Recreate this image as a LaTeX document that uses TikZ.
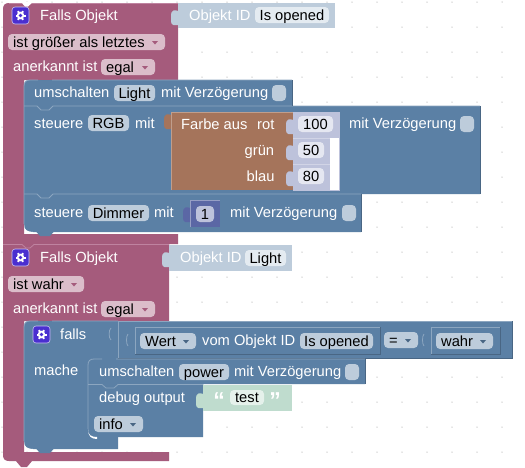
\documentclass[tikz,border=0pt]{standalone}
\usepackage{fontspec}
\setmainfont{Liberation Sans}
\definecolor{pur}{HTML}{A55B7C}
\definecolor{purL}{HTML}{BF83A0}
\definecolor{purF}{HTML}{DBBDCA}
\definecolor{blu}{HTML}{5B80A5}
\definecolor{bluL}{HTML}{8CA6C0}
\definecolor{bluD}{HTML}{496684}
\definecolor{bluF}{HTML}{BDCCDB}
\definecolor{bluFF}{HTML}{E4EBF1}
\definecolor{bro}{HTML}{A5745B}
\definecolor{broL}{HTML}{C09E8C}
\definecolor{ind}{HTML}{5B67A5}
\definecolor{indF}{HTML}{BDC2DB}
\definecolor{indFF}{HTML}{E5E7F1}
\definecolor{grnL}{HTML}{BFDCCE}
\definecolor{grnF}{HTML}{E5F1EB}
\definecolor{iconc}{HTML}{4A2FD0}
\newcount\nn
\tikzset{
  lbl/.style={anchor=base west,inner sep=0pt,text=white,font=\fontsize{14.7}{16}\selectfont},
  vtxt/.style={anchor=base,inner sep=0pt,text=black,font=\fontsize{14.7}{16}\selectfont},
  dtxt/.style={anchor=base west,inner sep=0pt,text=black,font=\fontsize{14.7}{16}\selectfont},
  quot/.style={anchor=base,inner sep=0pt,text=white,font=\fontsize{23}{23}\selectfont\bfseries},
  fieldbox/.style={rounded corners=4pt},
  edge/.style={line width=0.8pt},
}
\newcommand{\lb}[3]{\global\advance\nn by 1 \node[lbl] (n\the\nn) at (#1,#2) {#3};}
\newcommand{\fld}[5]{\fill[#1,fieldbox] (#2,#4) rectangle (#3,#4+16);
  \global\advance\nn by 1 \node[vtxt] (n\the\nn) at ({(#2+#3)/2},#4+13) {#5};}
\newcommand{\dd}[6]{\fill[#1,fieldbox] (#3,#5) rectangle (#4,#5+16);
  \global\advance\nn by 1 \node[dtxt] (n\the\nn) at (#3+5,#5+13) {#6};
  \fill[#2] (#4-13,#5+7) -- (#4-7,#5+7) -- (#4-10,#5+10.5) -- cycle;}
\newcommand{\chk}[2]{\fill[bluF,fieldbox] (#1,#2) rectangle (#1+14,#2+16);}
\newcommand{\tabb}[3]{\fill[#3] (#1+0.5,#2+3) .. controls (#1-3,#2+2) and (#1-7,#2+1) .. (#1-7,#2+8) -- (#1-7,#2+12) .. controls (#1-7,#2+19) and (#1-3,#2+17) .. (#1+0.5,#2+17) -- cycle;}
\newcommand{\vb}[6]{\fill[#5] (#1,#2) rectangle (#3,#4);
  \draw[#6,edge] (#1,#4) -- (#1,#2) -- (#3,#2);}
\newcommand{\icon}[2]{\fill[iconc,rounded corners=3pt,draw=white!70!iconc,line width=0.6pt] (#1,#2) rectangle (#1+17,#2+17);
  \foreach \a in {0,60,...,300}{\draw[white,line width=2pt] ($(#1+8.5,#2+8.5)+(\a:3)$) -- ($(#1+8.5,#2+8.5)+(\a:5)$);}
  \fill[white] (#1+8.5,#2+8.5) circle (3.8pt);
  \fill[iconc] (#1+8.5,#2+8.5) circle (1.9pt);}
\newcommand{\notch}[3]{\fill[#3] (#1+12,#2-0.5) -- (#1+16,#2+4) -- (#1+26,#2+4) -- (#1+30,#2-0.5) -- cycle;}
\newcommand{\qq}[2]{\global\advance\nn by 1 \node[quot] (n\the\nn) at (#1,#2) {\char"201C};}
\newcommand{\qr}[2]{\global\advance\nn by 1 \node[quot] (n\the\nn) at (#1,#2) {\char"201D};}
\usetikzlibrary{calc}
\begin{document}
\begin{tikzpicture}[x=1pt,y=-1pt]
\useasboundingbox (0,0) rectangle (525,467);
\fill[white] (0,0) rectangle (525,467);
\foreach \i in {0,...,20}{\foreach \j in {0,...,18}{\fill[black!20] (2+25*\i,2+25*\j) circle (0.75pt);}}
% ---------- purple block 1
\fill[pur] (3,9) .. controls (3,5) and (5,3) .. (9,3) -- (178,3) -- (178,80) -- (24,80) -- (24,234) -- (178,234) -- (178,244) -- (3,244) -- cycle;
\fill[white] (21,2) -- (33,2) -- (28,6.5) -- (25,6.5) -- cycle;
\draw[purL,edge] (9,3) -- (22,3) (32,3) -- (178,3);
% ---------- Objekt ID 1
\vb{178}{3}{335}{28}{bluF}{bluF}
\tabb{178}{8}{bluF}
\lb{189}{20}{Objekt ID}
\fld{bluFF}{255}{329}{7}{Is opened}
\icon{12}{7}
\lb{40}{20}{Falls Objekt}
\dd{purF}{pur}{8}{165}{34}{ist größer als letztes}
\lb{13}{71}{anerkannt ist}
\dd{purF}{pur}{101}{155}{59}{egal}
% ---------- blue statements of block 1
\fill[blu] (24,86) .. controls (24,82) and (26,80) .. (30,80) -- (292,80) -- (292,106) -- (480,106) -- (480,194) -- (361,194) -- (361,232) -- (33,232) .. controls (27,232) and (24,230) .. (24,224) -- cycle;
\fill[white] (24,224) .. controls (24,231) and (27,234) .. (33,234) -- (33,232) .. controls (27,232) and (24,230) .. (24,224) -- cycle;
\notch{24}{232}{blu}
\draw[bluL,edge] (24,224) -- (24,86) .. controls (24,82) and (26,80) .. (30,80) -- (38,80) (52,80) -- (292,80);
\draw[bluL,edge] (24,106) -- (37,106) -- (41,110) -- (49,110) -- (53,106) -- (292,106) -- (480,106);
\draw[bluL,edge] (24,194) -- (37,194) -- (41,198) -- (49,198) -- (53,194) -- (361,194);
\draw[bluD,edge] (292,80) -- (292,106) (480,106) -- (480,194) (361,194) -- (361,232);
\lb{34}{97}{umschalten}
\fld{bluF}{114}{155}{85}{Light}
\lb{161}{97}{mit Verzögerung}
\chk{272}{85}
\lb{34}{128}{steuere}
\fld{bluF}{88}{129}{115}{RGB}
\lb{135}{128}{mit}
% colour block
\tabb{171}{112}{bro}
\fill[white] (330,138) rectangle (339,190);
\fill[indF] (293,112) rectangle (339,138);
\fill[indF] (293,138) rectangle (330,190);
\draw[indF,edge] (339,112) -- (339,190) -- (293,190);
\fill[bro] (171,112) rectangle (293,190);
\draw[broL,edge] (171,190) -- (171,112) -- (293,112);
\draw[indF!70!white,edge] (293,138) -- (330,138) (293,164) -- (330,164);
\tabb{293}{117}{indF}
\tabb{293}{143}{indF}
\tabb{293}{169}{indF}
\lb{181}{129}{Farbe aus}
\lb{257}{129}{rot}
\lb{244.5}{155}{grün}
\lb{246.5}{181}{blau}
\fld{indFF}{298}{333}{116}{100}
\fld{indFF}{298}{324}{142}{50}
\fld{indFF}{298}{324}{168}{80}
\lb{349}{128}{mit Verzögerung}
\chk{460}{116}
\lb{34}{217}{steuere}
\fld{bluF}{88}{149}{205}{Dimmer}
\lb{154}{217}{mit}
\tabb{190}{205}{ind}
\fill[ind] (190,200) rectangle (220,227);
\draw[indF!60!ind,edge] (190,227) -- (190,200) -- (220,200);
\fld{indF}{196}{214}{206}{1}
\lb{230}{217}{mit Verzögerung}
\chk{342}{205}
% ---------- purple block 2
\fill[pur] (3,244) -- (169,244) -- (169,321) -- (24,321) -- (24,452) -- (169,452) -- (169,461) -- (32,461) -- (27,467) -- (21,467) -- (16,461) -- (9,461) .. controls (5,461) and (3,459) .. (3,455) -- cycle;
\fill[pur] (16,243) rectangle (32,248);
\draw[purL,edge] (3,244.5) -- (22,244.5) -- (26,248) -- (30,248) -- (34,244.5) -- (169,244.5);
% ---------- Objekt ID 2
\vb{169}{245}{292}{271}{bluF}{bluF}
\tabb{169}{250}{bluF}
\lb{180}{262}{Objekt ID}
\fld{bluFF}{245}{286}{250}{Light}
\icon{12}{249}
\lb{40}{262}{Falls Objekt}
\dd{purF}{pur}{8}{84}{276}{ist wahr}
\lb{13}{313}{anerkannt ist}
\dd{purF}{pur}{101}{155}{301}{egal}
% ---------- falls block
\fill[blu] (24,327) .. controls (24,323) and (26,321) .. (30,321) -- (118,321) -- (118,449) -- (33,449) .. controls (27,449) and (24,447) .. (24,441) -- cycle;
\fill[white] (24,441) .. controls (24,448) and (27,451) .. (33,451) -- (33,449) .. controls (27,449) and (24,447) .. (24,441) -- cycle;
\notch{24}{449}{blu}
\draw[bluL,edge] (24,441) -- (24,327) .. controls (24,323) and (26,321) .. (30,321) -- (38,321) (52,321) -- (118,321);
\icon{33}{326}
\lb{60}{339}{falls}
\lb{34}{375}{mache}
% compare block
\fill[blu] (118,321) rectangle (512,358);
\draw[bluL,edge] (118,358) -- (118,321) -- (512,321);
\draw[bluD,edge] (512,321) -- (512,358) -- (118,358);
\draw[bluL,edge] (111,328) .. controls (108.5,330) and (108.5,338) .. (111,340);
% Wert block
\draw[bluL,edge] (135,354) -- (135,327) -- (380,327);
\draw[bluD,edge] (380,327) -- (380,354) -- (135,354);
\draw[bluL,edge] (128,334) .. controls (126,336) and (126,344) .. (128,346);
\dd{bluF}{bluD}{140}{196}{333}{Wert}
\lb{202}{345}{vom Objekt ID}
\fld{bluF}{300}{373}{333}{Is opened}
\dd{bluF}{bluD}{384}{418}{332}{=}
% wahr block
\draw[bluL,edge] (431,354) -- (431,327) -- (500,327);
\draw[bluD,edge] (500,327) -- (500,354) -- (431,354);
\draw[bluL,edge] (424,334) .. controls (422,336) and (422,344) .. (424,346);
\dd{bluF}{bluD}{436}{493}{333}{wahr}
% ---------- inner statements
\fill[blu] (88,365) .. controls (88,361) and (90,359) .. (94,359) -- (365,359) -- (365,384) -- (203,384) -- (203,437) -- (97,437) .. controls (91,437) and (88,435) .. (88,429) -- cycle;
\fill[white] (88,429) .. controls (88,436) and (91,439) .. (97,439) -- (97,437) .. controls (91,437) and (88,435) .. (88,429) -- cycle;
\notch{88}{437}{blu}
\draw[bluL,edge] (88,429) -- (88,365) .. controls (88,361) and (90,359) .. (94,359) -- (102,359) (116,359) -- (365,359);
\draw[bluL,edge] (88,384.5) -- (102,384.5) -- (106,388) -- (114,388) -- (118,384.5) -- (203,384.5);
\draw[bluD,edge] (365,359) -- (365,384);
\lb{99}{376}{umschalten}
\fld{bluF}{179}{229}{364}{power}
\lb{234}{376}{mit Verzögerung}
\chk{345}{364}
\lb{99}{402}{debug output}
\fill[grnL] (203,385) rectangle (292,411);
\tabb{203}{391}{grnL}
\qq{219}{408}
\qr{275}{408}
\fill[grnF,fieldbox] (230,390) rectangle (264,405);
\node[vtxt] (testlabel) at (247,402) {test};
\dd{bluF}{bluD}{94}{143}{416}{info}
\end{tikzpicture}
\end{document}
